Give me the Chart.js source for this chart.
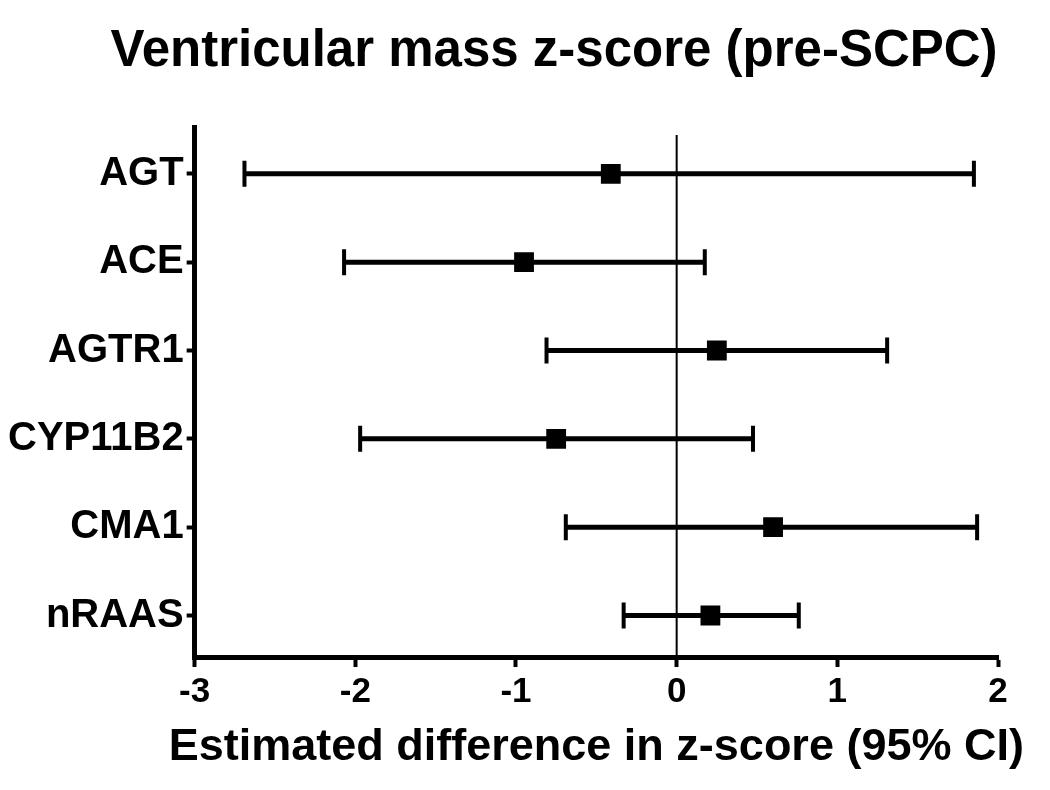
<!DOCTYPE html>
<html>
<head>
<meta charset="utf-8">
<script src="https://cdn.jsdelivr.net/npm/chart.js@4/dist/chart.umd.min.js"></script>
<style>
  html, body { margin: 0; padding: 0; background: #fff; }
  #wrap { width: 1050px; height: 790px; }
</style>
</head>
<body>
<div id="wrap"><canvas id="chart"></canvas></div>
<script>
const genes = ["AGT", "ACE", "AGTR1", "CYP11B2", "CMA1", "nRAAS"];
const estimate = [-0.41, -0.95, 0.25, -0.75, 0.60, 0.21];
const lower = [-2.69, -2.07, -0.81, -1.97, -0.69, -0.33];
const upper = [1.85, 0.175, 1.31, 0.475, 1.87, 0.76];
const xTicks = [-3, -2, -1, 0, 1, 2];

const FONT = "'Liberation Sans', Arial, sans-serif";
const chartTitle = "Ventricular mass z-score (pre-SCPC)";
const xTitle = "Estimated difference in z-score (95% CI)";

// CI bars, line at zero, titles (drawn here so they aren't squeezed to the axis width)
const forestPlugin = {
  id: "forest",
  beforeDatasetsDraw(chart) {
    const ctx = chart.ctx;
    const xs = chart.scales.x, ys = chart.scales.y;
    const area = chart.chartArea;
    ctx.save();
    ctx.strokeStyle = "#000";
    ctx.lineWidth = 2;
    ctx.beginPath();
    ctx.moveTo(xs.getPixelForValue(0), area.top + 8);
    ctx.lineTo(xs.getPixelForValue(0), area.bottom);
    ctx.stroke();

    genes.forEach((g, i) => {
      const y = ys.getPixelForValue(i);
      const x1 = xs.getPixelForValue(lower[i]);
      const x2 = xs.getPixelForValue(upper[i]);
      ctx.lineWidth = 5;
      ctx.beginPath();
      ctx.moveTo(x1, y);
      ctx.lineTo(x2, y);
      ctx.stroke();
      ctx.lineWidth = 4;
      ctx.beginPath();
      ctx.moveTo(x1, y - 13);
      ctx.lineTo(x1, y + 13);
      ctx.moveTo(x2, y - 13);
      ctx.lineTo(x2, y + 13);
      ctx.stroke();
    });
    ctx.restore();
  },
  afterDraw(chart) {
    const ctx = chart.ctx;
    const area = chart.chartArea;
    ctx.save();
    ctx.fillStyle = "#000";
    ctx.textAlign = "center";
    ctx.textBaseline = "alphabetic";
    ctx.font = "bold 51px " + FONT;
    ctx.fillText(chartTitle, 554, 66);
    ctx.font = "bold 45px " + FONT;
    ctx.fillText(xTitle, (area.left + area.right) / 2, 760);
    ctx.restore();
  }
};

new Chart(document.getElementById("chart"), {
  type: "scatter",
  data: {
    datasets: [{
      data: genes.map((g, i) => ({ x: estimate[i], y: i })),
      backgroundColor: "#000",
      borderColor: "#000",
      pointStyle: "rect",
      pointRadius: 14,
      pointHoverRadius: 14,
      borderWidth: 0
    }]
  },
  options: {
    responsive: true,
    maintainAspectRatio: false,
    animation: false,
    layout: { padding: { top: 127, left: 5, right: 52, bottom: 73 } },
    plugins: {
      legend: { display: false },
      tooltip: { enabled: false }
    },
    scales: {
      x: {
        type: "linear",
        min: -3,
        max: 2,
        afterBuildTicks: (s) => { s.ticks = xTicks.map(v => ({ value: v })); },
        grid: { display: true, drawOnChartArea: false, drawTicks: true, tickLength: 10, tickWidth: 4, tickColor: "#000" },
        border: { display: true, width: 5, color: "#000" },
        ticks: { color: "#000", font: { family: FONT, size: 35, weight: "bold" }, padding: 4, maxRotation: 0 }
      },
      y: {
        type: "linear",
        reverse: true,
        min: -0.53,
        max: 5.47,
        afterBuildTicks: (s) => { s.ticks = genes.map((g, i) => ({ value: i })); },
        grid: { display: true, drawOnChartArea: false, drawTicks: true, tickLength: 8, tickWidth: 4, tickColor: "#000" },
        border: { display: true, width: 5, color: "#000" },
        ticks: {
          color: "#000",
          font: { family: FONT, size: 40, weight: "bold" },
          padding: 3,
          callback: (v) => genes[v]
        }
      }
    }
  },
  plugins: [forestPlugin]
});
</script>
</body>
</html>
